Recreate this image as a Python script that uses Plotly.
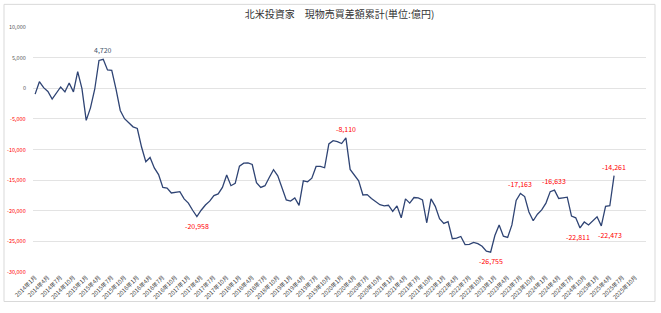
import plotly.graph_objects as go

# ---- data ----
years = list(range(2014, 2026))
categories = [f"{y}年{m}月" for y in years for m in range(1, 13)]  # 2014年1月 .. 2025年12月

values = [
    -960, 1070, 100, -530, -1760, -690, 210, -590, 850, -590, 2720, -50,
    -5240, -3200, -160, 4540, 4720, 2990, 2940, -160, -3630, -4970, -5720, -6300,
    -6570, -9600, -12000, -11300, -13000, -14100, -16200, -16300, -17100, -17000, -16880, -18060,
    -18750, -19920, -20958, -19920, -19070, -18430, -17520, -17260, -16190, -14150, -15910, -15540,
    -12710, -12230, -12180, -12450, -15430, -16190, -15910, -14580, -13300, -14310, -16190, -18220,
    -18430, -17900, -19120, -15110, -15270, -14690, -12770, -12770, -12980, -9080, -8550, -8710,
    -9030, -8110, -13250, -14150, -15110, -17420, -17360, -18000, -18590, -19020, -19200, -19100,
    -20100, -19200, -21150, -18060, -18750, -17840, -17900, -18220, -21960, -18060, -19280, -21310,
    -22070, -21790, -24570, -24470, -24200, -25530, -25480, -25160, -25370, -25800, -26600, -26755,
    -24040, -22320, -24150, -24360, -22320, -18320, -17163, -17680, -20190, -21630, -20560, -19870,
    -18750, -16880, -16633, -18000, -17900, -17790, -20880, -21150, -22811, -21840, -22320, -21630,
    -20990, -22473, -19280, -19180, -14261,
]

# labelled points: (index, position, horizontal nudge)
label_points = [(16, "above", 0), (38, "below", 0), (73, "above", 0), (107, "below", 0),
                (114, "above", 0), (122, "above", 0), (128, "below", -2), (133, "below", 9),
                (136, "above", 0)]

y_ticks = [10000, 5000, 0, -5000, -10000, -15000, -20000, -25000, -30000]
title_text = "北米投資家　現物売買差額累計(単位:億円)"

# ---- layout geometry ----
W, H = 661, 313
ML, MR, MT, MB = 33, 15, 27, 37
FONT = "Noto Sans CJK JP, Noto Sans, sans-serif"
RED = "#FF0000"
GRAY = "#595959"
LINE = "#2F4474"

fig = go.Figure()
fig.add_trace(go.Scatter(
    x=categories[:len(values)], y=values, mode="lines",
    line=dict(color=LINE, width=1.3), hoverinfo="skip", showlegend=False,
))

def fmt(v):
    return f"{v:,}"

annotations = []
for idx, pos, dx in label_points:
    v = values[idx]
    annotations.append(dict(
        x=categories[idx], y=v, xref="x", yref="y", text=fmt(v), showarrow=False,
        yshift=9 if pos == "above" else -9, xshift=dx,
        font=dict(size=7, color=RED if v < 0 else "#44546A", family=FONT),
    ))

# y tick labels (negative values in red, as in the source's number format)
for v in y_ticks:
    annotations.append(dict(
        x=0, y=v, xref="paper", yref="y", text=fmt(v), showarrow=False,
        xanchor="right", yanchor="middle", xshift=-5,
        font=dict(size=5.5, color=RED if v < 0 else GRAY, family=FONT),
    ))

pw, ph = W - ML - MR, H - MT - MB
def px2paper_x(px):
    return (px - ML) / pw
def px2paper_y(py):
    return (H - MB - py) / ph

fig.update_layout(
    width=W, height=H,
    margin=dict(l=ML, r=MR, t=MT, b=MB, pad=0),
    paper_bgcolor="white", plot_bgcolor="white",
    font=dict(family=FONT, color=GRAY),
    title=dict(text=title_text, x=0.5, xref="paper", xanchor="center",
               y=1 - 14 / H, yref="container", yanchor="middle",
               font=dict(size=10, color="#333333", family=FONT)),
    xaxis=dict(
        type="category", categoryorder="array", categoryarray=categories,
        range=[-0.5, len(categories) - 0.5],
        tickmode="array", tickvals=categories[::3], ticktext=categories[::3],
        tickangle=-45, tickfont=dict(size=5.8, color="#404040", family=FONT),
        showgrid=False, showline=False, ticks="", zeroline=False,
    ),
    yaxis=dict(
        range=[-30000, 10000], tickmode="array", tickvals=y_ticks,
        showticklabels=False,
        showgrid=True, gridcolor="#E3E3E3", gridwidth=1,
        zeroline=False, showline=False, ticks="",
    ),
    annotations=annotations,
    shapes=[dict(
        type="rect", xref="paper", yref="paper",
        x0=px2paper_x(4), x1=px2paper_x(655), y0=px2paper_y(306), y1=px2paper_y(4),
        line=dict(color="#D9D9D9", width=1), fillcolor="rgba(0,0,0,0)", layer="below",
    )],
)

fig.write_html("out.html")
